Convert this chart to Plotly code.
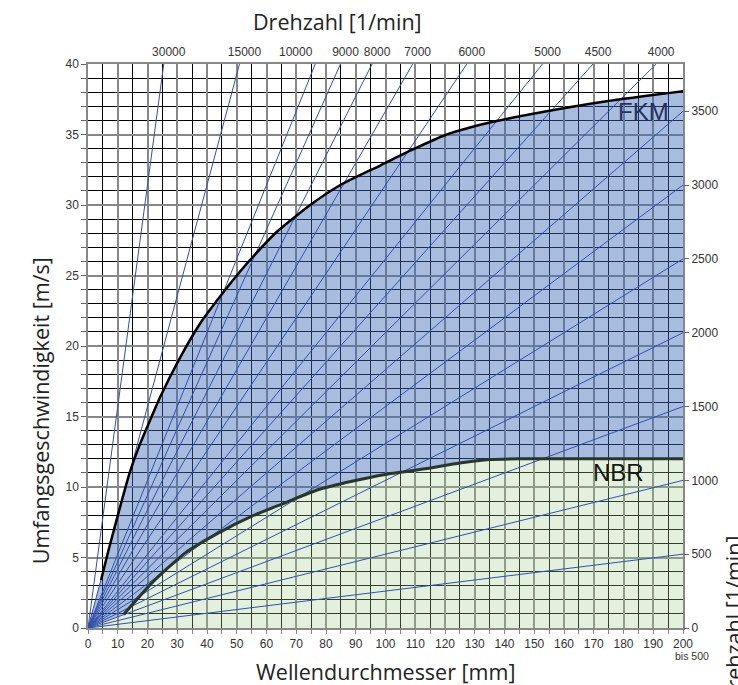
import math
import plotly.graph_objects as go

# ---- data ----
fkm_d = [4.4, 7.0, 10.8, 14.0, 17.2, 21.0, 24.3, 31.0, 37.7, 45.1, 51.2, 56.2, 63.5, 74.7,
         84.7, 98.2, 108.3, 120.6, 136.2, 154.2, 174.3, 200]
fkm_v = [3.4, 5.6, 8.6, 11.0, 12.9, 14.8, 16.4, 19.2, 21.6, 23.7, 25.3, 26.5, 28.1, 30.0,
         31.4, 32.8, 33.85, 35.0, 35.9, 36.65, 37.36, 38.07]

nbr_d = [12.0, 21.5, 32.7, 43.9, 55.1, 66.3, 77.5, 88.7, 99.9, 113.3, 125, 135, 145, 200]
nbr_v = [0.96, 3.2, 5.33, 6.75, 7.93, 8.88, 9.82, 10.41, 10.89, 11.29, 11.7, 11.95, 12.0, 12.0]

speeds = [30000, 15000, 10000, 9000, 8000, 7000, 6000, 5000, 4500, 4000,
          3500, 3000, 2500, 2000, 1500, 1000, 500]
top_labels = [30000, 15000, 10000, 9000, 8000, 7000, 6000, 5000, 4500, 4000]
right_labels = [0, 500, 1000, 1500, 2000, 2500, 3000, 3500]

D_MAX = 200
V_MAX = 40

def k_of(n):
    # v [m/s] = pi * d[mm] * n[1/min] / 60000
    return math.pi * n / 60000.0

fig = go.Figure()

# filled regions (semi transparent so grid shows through)
fig.add_trace(go.Scatter(
    x=[0] + fkm_d + nbr_d[::-1] + [0],
    y=[0] + fkm_v + nbr_v[::-1] + [0],
    fill="toself", fillcolor="rgba(62,106,186,0.45)",
    line=dict(width=0), mode="lines", hoverinfo="skip", showlegend=False))
fig.add_trace(go.Scatter(
    x=[0] + nbr_d + [D_MAX, 0],
    y=[0] + nbr_v + [0, 0],
    fill="toself", fillcolor="rgba(165,205,145,0.30)",
    line=dict(width=0), mode="lines", hoverinfo="skip", showlegend=False))

# radial speed lines
for n in speeds:
    k = k_of(n)
    if k * D_MAX <= V_MAX:
        xe, ye = D_MAX, k * D_MAX
    else:
        xe, ye = V_MAX / k, V_MAX
    fig.add_trace(go.Scatter(x=[0, xe], y=[0, ye], mode="lines",
                             line=dict(color="rgb(50,80,170)", width=1),
                             hoverinfo="skip", showlegend=False))

# limit curves
fig.add_trace(go.Scatter(x=nbr_d, y=nbr_v, mode="lines",
                         line=dict(color="rgb(40,55,45)", width=3, shape="spline", smoothing=0.6),
                         hoverinfo="skip", showlegend=False))
fig.add_trace(go.Scatter(x=fkm_d, y=fkm_v, mode="lines",
                         line=dict(color="black", width=2.5, shape="spline", smoothing=0.6),
                         hoverinfo="skip", showlegend=False))

# invisible traces to activate secondary axes
rpm_max = V_MAX / k_of(D_MAX)
fig.add_trace(go.Scatter(x=[0], y=[0], xaxis="x2", yaxis="y", mode="markers",
                         marker=dict(opacity=0), hoverinfo="skip", showlegend=False))
fig.add_trace(go.Scatter(x=[0], y=[0], xaxis="x", yaxis="y2", mode="markers",
                         marker=dict(opacity=0), hoverinfo="skip", showlegend=False))

tick_family = "Liberation Sans Narrow, Arial Narrow, Liberation Sans, Arial"
tick_font = dict(family=tick_family, size=12, color="#333")
title_font = dict(family="Open Sans, Noto Sans, sans-serif", size=21.5, color="#222")

# the 10000 label sits left of its line in the reference -> drawn separately
top_text = [("" if n == 10000 else str(n)) for n in top_labels]

fig.update_layout(
    width=738, height=685,
    margin=dict(l=88, r=55, t=64, b=57),
    paper_bgcolor="white", plot_bgcolor="white",
    showlegend=False,
    xaxis=dict(range=[0, D_MAX], dtick=10, tick0=0, tickangle=0,
               showgrid=True, gridcolor="rgb(135,135,135)", gridwidth=2,
               minor=dict(dtick=5, showgrid=True, gridcolor="black", gridwidth=1,
                          ticks="outside", ticklen=4, tickcolor="#888"),
               ticks="outside", ticklen=4, tickcolor="#888",
               showline=True, linecolor="#888", linewidth=1.5, mirror=True,
               zeroline=False, tickfont=tick_font, fixedrange=True),
    yaxis=dict(range=[0, V_MAX], dtick=5, tick0=0,
               showgrid=True, gridcolor="rgb(135,135,135)", gridwidth=2,
               minor=dict(dtick=1, showgrid=True, gridcolor="black", gridwidth=1,
                          ticks="outside", ticklen=5, tickcolor="#666"),
               ticks="outside", ticklen=5, tickcolor="#666",
               showline=True, linecolor="#888", linewidth=1.5, mirror=True,
               zeroline=False, tickfont=tick_font, fixedrange=True),
    xaxis2=dict(overlaying="x", side="top", range=[0, D_MAX],
                tickmode="array", tickangle=0, ticklabelshift=5, ticklabelstandoff=5,
                tickvals=[V_MAX / k_of(n) for n in top_labels],
                ticktext=top_text,
                ticks="", showgrid=False, zeroline=False, showline=False,
                tickfont=tick_font, fixedrange=True),
    yaxis2=dict(overlaying="y", side="right", range=[0, rpm_max],
                tickmode="array", tickvals=right_labels,
                ticktext=[str(n) for n in right_labels],
                ticks="outside", ticklen=5, tickcolor="#666",
                showgrid=False, zeroline=False, showline=False,
                tickfont=tick_font, fixedrange=True),
)

ann = [
    dict(text="10000", xref="x", yref="paper", x=V_MAX / k_of(10000), y=1,
         xanchor="center", yanchor="middle", xshift=-19, yshift=12, showarrow=False,
         font=tick_font),
    dict(text="Wellendurchmesser [mm]", xref="paper", yref="paper", x=0.5, y=-0.078,
         xanchor="center", yanchor="middle", showarrow=False, font=title_font),
    dict(text="Drehzahl [1/min]", xref="paper", yref="paper", x=0.42, y=1.075,
         xanchor="center", yanchor="middle", showarrow=False, font=title_font),
    dict(text="Umfangsgeschwindigkeit [m/s]", xref="paper", yref="paper", x=-0.08, y=0.385,
         xanchor="center", yanchor="middle", textangle=-90, showarrow=False, font=title_font),
    dict(text="Drehzahl [1/min]", xref="paper", yref="paper", x=1.085, y=0.015,
         xanchor="center", yanchor="middle", textangle=-90, showarrow=False, font=title_font),
    dict(text="bis 500", xref="paper", yref="paper", x=1.015, y=-0.05,
         xanchor="center", yanchor="middle", showarrow=False,
         font=dict(family=tick_family, size=10.5, color="#333")),
    dict(text="FKM", xref="x", yref="y", x=186.7, y=36.6, xanchor="center", yanchor="middle",
         showarrow=False, font=dict(family="Liberation Sans, Arial", size=24, color="rgb(35,50,95)")),
    dict(text="NBR", xref="x", yref="y", x=178.4, y=11.0, xanchor="center", yanchor="middle",
         showarrow=False, font=dict(family="Liberation Sans, Arial", size=24, color="rgb(20,25,20)")),
]
fig.update_layout(annotations=ann)

fig.write_html("out.html", config={"displayModeBar": False},
               post_script="document.body.style.margin='0';document.body.style.overflow='hidden';")
